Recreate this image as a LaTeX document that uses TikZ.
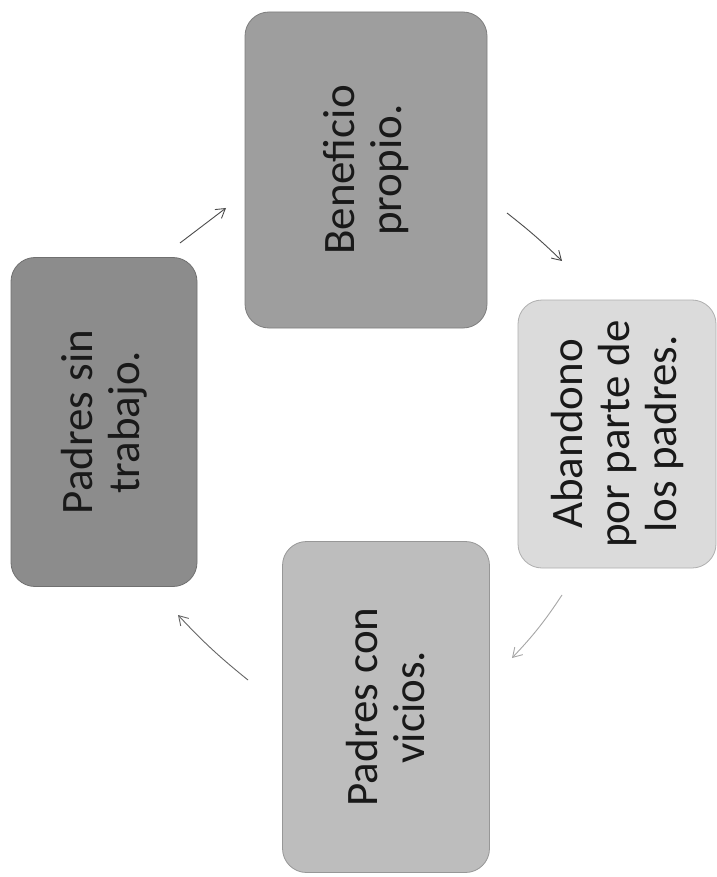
\documentclass[tikz,border=0pt]{standalone}
\usepackage{fontspec}
\setmainfont{Carlito}
\usetikzlibrary{arrows.meta}
\begin{document}
\begin{tikzpicture}[x=1pt,y=-1pt,
  cbox/.style={rectangle, rounded corners=24pt, rotate=90, align=center,
    text=black!90, draw=black!#1!white!80!black, line width=0.8pt, fill=black!#1,
    font=\fontsize{45}{47}\selectfont, inner sep=0pt},
  arr/.style={line width=0.9pt, draw=#1, -{Straight Barb[length=9pt,width=11pt]}},
  arr/.default={black!70}
]
\useasboundingbox (0,0) rectangle (716,877);
\fill[white] (0,0) rectangle (716,877);
% boxes (minimum width = vertical extent on page, because of rotation)
\node[cbox=45, minimum width=329pt, minimum height=186pt] (left) at (104,422) {Padres sin\\trabajo.};
\node[cbox=38, minimum width=316pt, minimum height=242pt] (top) at (366,170) {Beneficio\\propio.};
\node[cbox=14, minimum width=268pt, minimum height=198pt] (right) at (617,434) {Abandono\\por parte de\\los padres.};
\node[cbox=26, minimum width=331pt, minimum height=207pt] (bottom) at (386,707) {Padres con\\vicios.};
% arrow ends
\coordinate (a1s) at (180,243); \coordinate (a1e) at (226,208);
\coordinate (a2s) at (507,213); \coordinate (a2e) at (562,261);
\coordinate (a3s) at (562,595); \coordinate (a3e) at (512,658);
\coordinate (a4s) at (248,680); \coordinate (a4e) at (178,615);
\draw[arr] (a1s) -- (a1e);
\draw[arr] (a2s) to[bend left=3] (a2e);
\draw[arr=black!35] (a3s) to[bend left=5] (a3e);
\draw[arr=black!60] (a4s) to[bend left=4] (a4e);
\end{tikzpicture}
\end{document}
